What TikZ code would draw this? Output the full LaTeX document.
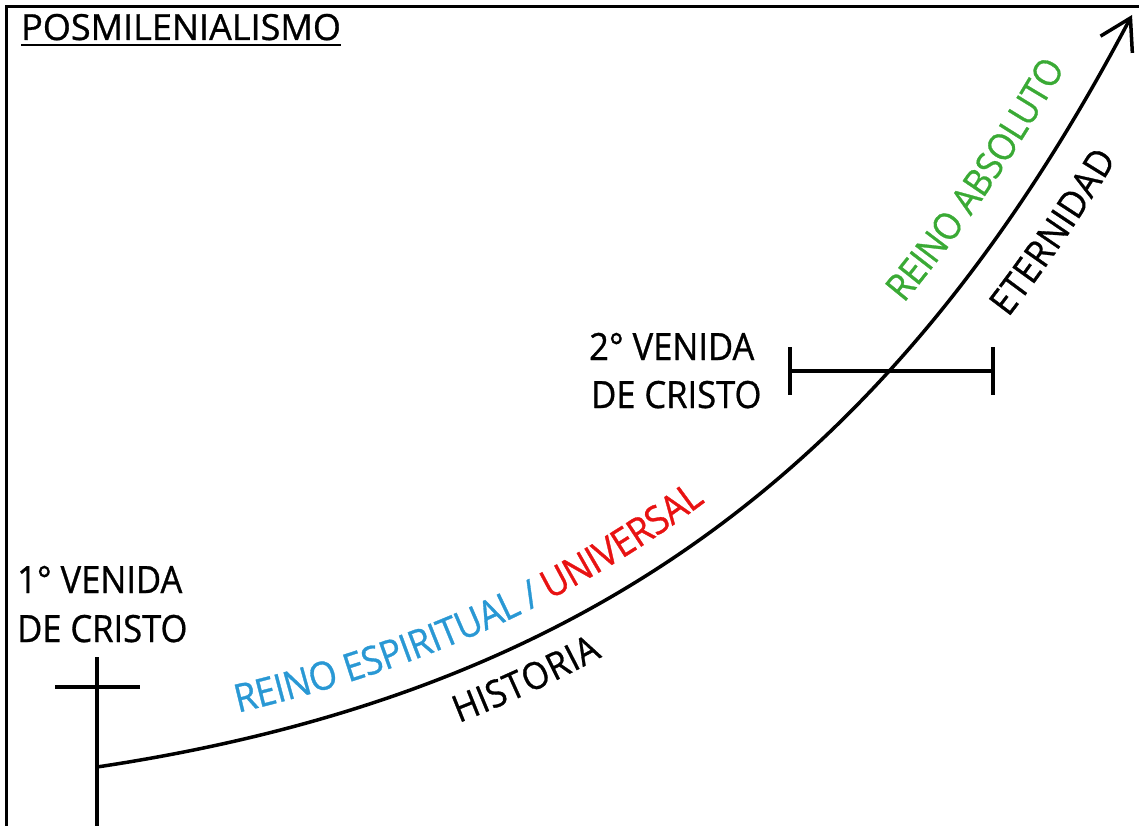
\documentclass[tikz,border=0pt]{standalone}
\usepackage{fontspec}
\setmainfont{Open Sans}
\newfontfamily\labelfam{Open Sans}[FakeStretch=0.92,FakeBold=0.8]
\newfontfamily\titlefam{Open Sans}[FakeBold=0.8]
\usetikzlibrary{arrows.meta,decorations.text}
\definecolor{cblue}{RGB}{41,152,212}
\definecolor{cred}{RGB}{232,18,18}
\definecolor{cgreen}{RGB}{58,170,53}
\newcommand{\lblfont}{\labelfam\fontsize{37.5}{45}\selectfont}
\newcommand{\bigcurvefont}{\labelfam\fontsize{39}{47}\selectfont}
\begin{document}
\begin{tikzpicture}[x=1pt,y=-1pt,
  lbl/.style={font=\lblfont, inner sep=0pt, anchor=base west},
  frameline/.style={line width=3pt},
  heavy/.style={line width=4pt},
  curveline/.style={line width=3.5pt}
]
\useasboundingbox (0,0) rectangle (1139,826);
% frame
\coordinate (fb) at (6.5,826);
\coordinate (fc) at (6.5,7);
\coordinate (fr) at (1139,7);
\draw[frameline] (fb) -- (fc) -- (fr);
% title
\node[lbl, font=\titlefam\fontsize{36}{43}\selectfont] (title) at (21,40) {POSMILENIALISMO};
\draw[line width=2pt] ([yshift=-5pt]title.base west) -- ([yshift=-5pt]title.base east);
% first coming
\node[lbl] (v1a) at (17,593) {1° VENIDA};
\node[lbl] (v1b) at (17,642) {DE CRISTO};
\coordinate (x1t) at (97,657);
\coordinate (x1b) at (97,826);
\coordinate (x1l) at (55,687);
\coordinate (x1r) at (140,687);
\draw[heavy] (x1t) -- (x1b);
\draw[heavy] (x1l) -- (x1r);
% second coming
\node[lbl] (v2a) at (589,360) {2° VENIDA};
\node[lbl] (v2b) at (591,408) {DE CRISTO};
\coordinate (b2l) at (790,371);
\coordinate (b2r) at (993,371);
\draw[heavy] (b2l) -- (b2r);
\draw[heavy] ([yshift=24pt]b2l) -- ([yshift=-24pt]b2l);
\draw[heavy] ([yshift=24pt]b2r) -- ([yshift=-24pt]b2r);
% main curve
\coordinate (c0) at (97,767);
\coordinate (c3) at (1132,15);
\draw[curveline, -{Straight Barb[length=30pt,width=36pt]}] (c0) .. controls (597,692) and (899,457) .. (c3);
% texts along the curve
\path[decorate, decoration={text along path, raise=27pt, text align={left indent=150pt},
  text={|\bigcurvefont\color{cblue}|REINO ESPIRITUAL / |\bigcurvefont\color{cred}|UNIVERSAL}}]
  (c0) .. controls (597,692) and (899,457) .. (c3);
\path[decorate, decoration={text along path, raise=-48pt, text align={left indent=356pt},
  text={|\lblfont|HISTORIA}}]
  (c0) .. controls (597,692) and (899,457) .. (c3);
\path[decorate, decoration={text along path, raise=33pt, text align={left indent=966pt},
  text={|\lblfont\color{cgreen}|REINO ABSOLUTO}}]
  (c0) .. controls (597,692) and (899,457) .. (c3);
\path[decorate, decoration={text along path, raise=-57.6pt, text align={left indent=1019pt},
  text={|\lblfont|ETERNIDAD}}]
  (c0) .. controls (597,692) and (899,457) .. (c3);
\end{tikzpicture}
\end{document}
